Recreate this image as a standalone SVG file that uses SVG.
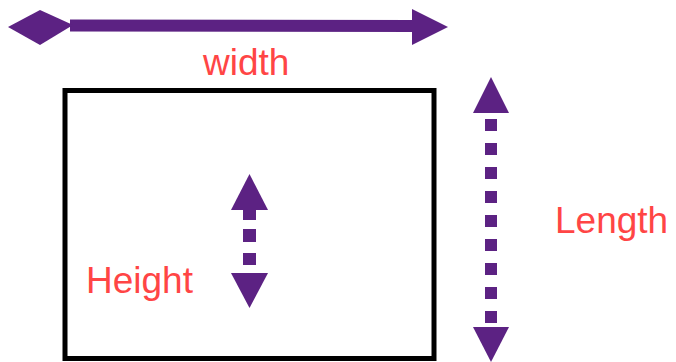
<svg xmlns="http://www.w3.org/2000/svg" width="676" height="362" viewBox="0 0 676 362">
<style>
.arrow{fill:#5c2283;stroke:none}
.shaft{stroke:#5c2283;fill:none}
.lbl{font-family:"Liberation Sans",Arial,sans-serif;font-size:37px;fill:#ff4545;stroke:#ffffff;stroke-width:5;paint-order:stroke;stroke-linejoin:round}
.box{fill:none;stroke:#000;stroke-width:5}
</style>
<rect width="676" height="362" fill="#fff"/>
<g id="rectangle">
<rect class="box" x="65" y="90.5" width="369" height="268"/>
</g>
<g id="connectors">
<g id="width-arrow">
<line class="shaft" x1="70" y1="25.5" x2="416" y2="26" stroke-width="12"/>
<polygon class="arrow" points="8,27 40,10 73,25 40,45"/>
<polygon class="arrow" points="412,9 448,27 412,45"/>
</g>
<g id="length-arrow">
<polygon class="arrow" points="491,77 509,113 473,113"/>
<line class="shaft" x1="491" y1="119" x2="491" y2="323" stroke-width="12" stroke-dasharray="12 12"/>
<polygon class="arrow" points="473,327 509,327 491,362"/>
</g>
<g id="height-arrow">
<polygon class="arrow" points="249.5,174 268,210 231,210"/>
<line class="shaft" x1="249.5" y1="207" x2="249.5" y2="265" stroke-width="13" stroke-dasharray="13 9 13 11 12"/>
<polygon class="arrow" points="231,273 268,273 249.5,308"/>
</g>
</g>
<g id="label-width"><text class="lbl" x="203" y="75">width</text></g>
<g id="label-length"><text class="lbl" x="555" y="233">Length</text></g>
<g id="label-height"><text class="lbl" x="86" y="293">Height</text></g>
</svg>
